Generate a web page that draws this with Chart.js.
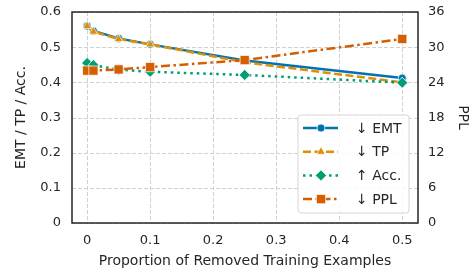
<!DOCTYPE html>
<html>
<head>
<meta charset="utf-8">
<script src="https://cdn.jsdelivr.net/npm/chart.js@4"></script>
<style>
  html, body { margin: 0; padding: 0; background: #fff; }
  #wrap { width: 471px; height: 272px; }
</style>
</head>
<body>
<div id="wrap"><canvas id="chart" width="471" height="272"></canvas></div>
<script>
// proportions of removed training examples
const proportions = [0, 0.01, 0.05, 0.1, 0.25, 0.5];
const emtValues = [0.560, 0.546, 0.525, 0.508, 0.462, 0.412];
const tpValues = [0.560, 0.544, 0.523, 0.508, 0.457, 0.400];
const accValues = [0.455, 0.449, 0.436, 0.430, 0.421, 0.399];
const pplValues = [26.0, 26.0, 26.2, 26.6, 27.8, 31.4];

const xTicks = [0, 0.1, 0.2, 0.3, 0.4, 0.5];
const leftTicks = [0, 0.1, 0.2, 0.3, 0.4, 0.5, 0.6];
const rightTicks = [0, 6, 12, 18, 24, 30, 36];

const FONT = 'DejaVu Sans';
const TXT = '#262626';
const GRID = '#d0d0d0';

const pts = vals => vals.map((v, i) => ({ x: proportions[i], y: v }));

const series = [
  { label: '↓ EMT', data: pts(emtValues), color: '#0173b2', dash: [], style: 'circle', r: 4, axis: 'y', order: 4 },
  { label: '↓ TP', data: pts(tpValues), color: '#de8f05', dash: [8, 3.5], style: 'triangle', r: 5, axis: 'y', order: 3 },
  { label: '↑ Acc.', data: pts(accValues), color: '#029e73', dash: [2.5, 4], style: 'rectRot', r: 5.5, axis: 'y', order: 2 },
  { label: '↓ PPL', data: pts(pplValues), color: '#d55e00', dash: [9, 3.5, 2.5, 3.5], style: 'rect', r: 6.5, axis: 'y1', order: 1 }
];

// dashed grid, drawn from the scales' own ticks
const gridPlugin = {
  id: 'dashGrid',
  beforeDatasetsDraw(chart) {
    const { ctx, chartArea: a, scales } = chart;
    ctx.save();
    ctx.strokeStyle = GRID;
    ctx.lineWidth = 1;
    ctx.setLineDash([4, 2]);
    scales.x.ticks.forEach(t => {
      const px = Math.round(scales.x.getPixelForValue(t.value)) + 0.5;
      ctx.beginPath(); ctx.moveTo(px, a.top); ctx.lineTo(px, a.bottom); ctx.stroke();
    });
    scales.y.ticks.forEach(t => {
      const py = Math.round(scales.y.getPixelForValue(t.value)) + 0.5;
      ctx.beginPath(); ctx.moveTo(a.left, py); ctx.lineTo(a.right, py); ctx.stroke();
    });
    ctx.restore();
  }
};

// frame around the plot
const framePlugin = {
  id: 'frame',
  afterDatasetsDraw(chart) {
    const { ctx, chartArea: a } = chart;
    ctx.save();
    ctx.strokeStyle = '#262626';
    ctx.lineWidth = 1.5;
    ctx.strokeRect(a.left, a.top, a.right - a.left, a.bottom - a.top);
    ctx.restore();
  }
};

// legend inside the plot, lower right
const legendPlugin = {
  id: 'innerLegend',
  afterDraw(chart) {
    const { ctx, chartArea: a } = chart;
    const bx = a.right - 120, by = a.bottom - 108, bw = 111, bh = 98;
    ctx.save();
    ctx.beginPath();
    ctx.roundRect(bx, by, bw, bh, 3);
    ctx.fillStyle = 'rgba(255,255,255,0.85)';
    ctx.fill();
    ctx.strokeStyle = '#d6d6d6';
    ctx.lineWidth = 1;
    ctx.stroke();
    series.forEach((s, i) => {
      const y = by + 13 + i * 23.7;
      ctx.beginPath();
      ctx.setLineDash(s.dash);
      ctx.strokeStyle = s.color;
      ctx.lineWidth = 2.5;
      ctx.moveTo(bx + 5, y);
      ctx.lineTo(bx + 40, y);
      ctx.stroke();
      ctx.setLineDash([]);
      ctx.fillStyle = s.color;
      ctx.strokeStyle = '#fff';
      ctx.lineWidth = 0.7;
      Chart.helpers.drawPoint(ctx, { pointStyle: s.style, radius: s.r, borderWidth: 0.7 }, bx + 23, y);
      ctx.fillStyle = TXT;
      ctx.font = '14px "' + FONT + '"';
      ctx.textBaseline = 'middle';
      ctx.textAlign = 'left';
      ctx.fillText(s.label, bx + 58, y + 1);
    });
    ctx.restore();
  }
};

const noPadV = ax => { ax.paddingTop = 0; ax.paddingBottom = 0; };

new Chart(document.getElementById('chart'), {
  type: 'line',
  data: {
    datasets: series.map(s => ({
      label: s.label,
      data: s.data,
      yAxisID: s.axis,
      order: s.order,
      borderColor: s.color,
      backgroundColor: s.color,
      borderWidth: 2.5,
      borderDash: s.dash,
      pointStyle: s.style,
      pointRadius: s.r,
      pointBackgroundColor: s.color,
      pointBorderColor: '#fff',
      pointBorderWidth: 0.7,
      tension: 0,
      fill: false
    }))
  },
  options: {
    responsive: false,
    animation: false,
    layout: { padding: { top: 12, left: 0, right: 0, bottom: 0 } },
    plugins: { legend: { display: false }, tooltip: { enabled: false } },
    scales: {
      x: {
        type: 'linear',
        min: -0.024,
        max: 0.525,
        afterBuildTicks: ax => { ax.ticks = xTicks.map(v => ({ value: v })); },
        afterFit: ax => { ax.height = 49; ax.paddingLeft = 0; ax.paddingRight = 0; },
        ticks: {
          color: TXT, font: { family: FONT, size: 13 }, padding: 10,
          callback: v => v === 0 ? '0' : String(+v.toFixed(1))
        },
        grid: { display: false, drawTicks: false },
        border: { display: false },
        title: {
          display: true, text: 'Proportion of Removed Training Examples',
          color: TXT, font: { family: FONT, size: 14 }, padding: { top: 2, bottom: 2 }
        }
      },
      y: {
        position: 'left',
        min: 0, max: 0.6,
        afterBuildTicks: ax => { ax.ticks = leftTicks.map(v => ({ value: v })); },
        afterFit: ax => { ax.width = 72; noPadV(ax); },
        ticks: {
          color: TXT, font: { family: FONT, size: 13 }, padding: 11,
          callback: v => v === 0 ? '0' : String(+v.toFixed(1))
        },
        grid: { display: false, drawTicks: false },
        border: { display: false },
        title: {
          display: true, text: 'EMT / TP / Acc.',
          color: TXT, font: { family: FONT, size: 14 }, padding: { top: 13, bottom: 4 }
        }
      },
      y1: {
        position: 'right',
        min: 0, max: 36,
        afterBuildTicks: ax => { ax.ticks = rightTicks.map(v => ({ value: v })); },
        afterFit: ax => { ax.width = 53; noPadV(ax); },
        ticks: { color: TXT, font: { family: FONT, size: 13 }, padding: 10 },
        grid: { display: false, drawTicks: false },
        border: { display: false },
        title: {
          display: true, text: 'PPL',
          color: TXT, font: { family: FONT, size: 14 }, padding: { top: 0, bottom: 0 }
        }
      }
    }
  },
  plugins: [gridPlugin, framePlugin, legendPlugin]
});
</script>
</body>
</html>
